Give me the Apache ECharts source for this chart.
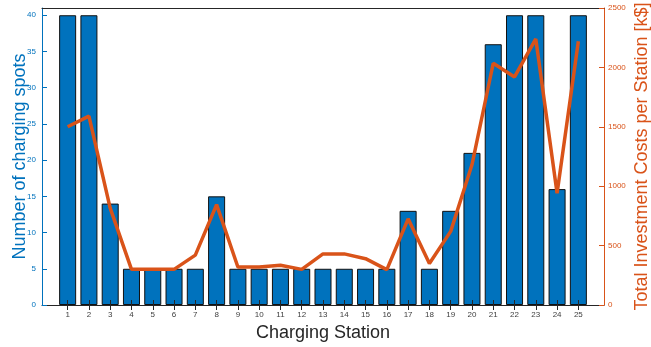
<!DOCTYPE html>
<html>
<head>
<meta charset="utf-8">
<script src="https://cdn.jsdelivr.net/npm/echarts@6/dist/echarts.min.js"></script>
<style>html,body{margin:0;padding:0;background:#fff}#c{width:651px;height:347px}</style>
</head>
<body>
<div id="c"></div>
<script>
const stations = ['1','2','3','4','5','6','7','8','9','10','11','12','13','14','15','16','17','18','19','20','21','22','23','24','25'];
const spots = [40,40,14,5,5,5,5,15,5,5,5,5,5,5,5,5,13,5,13,21,36,40,40,16,40];
const costs = [1500,1590,815,300,300,300,420,845,320,320,335,300,430,430,390,298,725,350,620,1180,2035,1920,2240,940,2220];
const leftTicksMax = 41;
const rightTicksMax = 2500;

const FONT = 'Liberation Sans, Arial, Helvetica, sans-serif';
const BLUE = '#0072BD', ORANGE = '#D95319', DARK = '#262626';

const chart = echarts.init(document.getElementById('c'), null, {renderer: 'canvas'});
chart.setOption({
  animation: false,
  backgroundColor: '#fff',
  textStyle: {fontFamily: FONT},
  grid: [
    {left: 57, right: 62, top: 8, bottom: 42, containLabel: false, outerBoundsMode: 'none'},
    {left: 42, right: 47, top: 8, bottom: 42, containLabel: false, outerBoundsMode: 'none'}
  ],
  xAxis: [
    {
      type: 'category', gridIndex: 0, data: stations, position: 'bottom', z: 5,
      axisLine: {show: false},
      axisTick: {show: true, inside: true, alignWithLabel: true, length: 5, lineStyle: {color: DARK, width: 1}},
      axisLabel: {color: '#404040', fontSize: 8, margin: 6, fontFamily: FONT, interval: 0},
      name: 'Charging Station', nameLocation: 'middle', nameGap: 17,
      nameTextStyle: {color: DARK, fontSize: 18, fontFamily: FONT},
      splitLine: {show: false}
    },
    {
      type: 'category', gridIndex: 0, data: stations, position: 'top', z: 5,
      axisLine: {show: false},
      axisTick: {show: true, inside: true, alignWithLabel: true, length: 5, lineStyle: {color: DARK, width: 1}},
      axisLabel: {show: false},
      splitLine: {show: false}
    },
    {
      type: 'value', gridIndex: 1, min: 0, max: 1, position: 'bottom', z: 6,
      axisLine: {show: true, lineStyle: {color: DARK, width: 1}},
      axisTick: {show: false}, axisLabel: {show: false}, splitLine: {show: false}
    },
    {
      type: 'value', gridIndex: 1, min: 0, max: 1, position: 'top', z: 6,
      axisLine: {show: true, lineStyle: {color: DARK, width: 1}},
      axisTick: {show: false}, axisLabel: {show: false}, splitLine: {show: false}
    }
  ],
  yAxis: [
    {
      type: 'value', gridIndex: 0, position: 'left', offset: 15, min: 0, max: leftTicksMax, interval: 5, z: 6,
      axisLine: {show: true, lineStyle: {color: BLUE, width: 1}},
      axisTick: {show: true, inside: true, length: 5, lineStyle: {color: BLUE}},
      axisLabel: {color: BLUE, fontSize: 8, margin: 6, fontFamily: FONT, showMaxLabel: false,
        formatter: v => String(v)},
      splitLine: {show: false},
      name: 'Number of charging spots', nameLocation: 'middle', nameRotate: 90, nameGap: 13,
      nameMoveOverlap: false,
      nameTextStyle: {color: BLUE, fontSize: 18, fontFamily: FONT}
    },
    {
      type: 'value', gridIndex: 0, position: 'right', offset: 15, min: 0, max: rightTicksMax, interval: 500, z: 6,
      axisLine: {show: true, lineStyle: {color: ORANGE, width: 1}},
      axisTick: {show: true, inside: true, length: 5, lineStyle: {color: ORANGE}},
      axisLabel: {color: ORANGE, fontSize: 8, margin: 4, fontFamily: FONT, formatter: v => String(v)},
      splitLine: {show: false},
      name: 'Total Investment Costs per Station [k$]', nameLocation: 'middle', nameRotate: 90, nameGap: 29,
      nameMoveOverlap: false,
      nameTextStyle: {color: ORANGE, fontSize: 18, fontFamily: FONT}
    },
    {
      type: 'value', gridIndex: 1, min: 0, max: 1, show: false
    }
  ],
  series: [
    {
      type: 'bar', xAxisIndex: 0, yAxisIndex: 0, data: spots, barWidth: '80%',
      itemStyle: {color: BLUE, borderColor: '#111', borderWidth: 1},
      z: 2
    },
    {
      type: 'line', xAxisIndex: 0, yAxisIndex: 1, data: costs, symbol: 'none',
      lineStyle: {color: ORANGE, width: 3.5}, z: 4
    }
  ]
});
</script>
</body>
</html>
